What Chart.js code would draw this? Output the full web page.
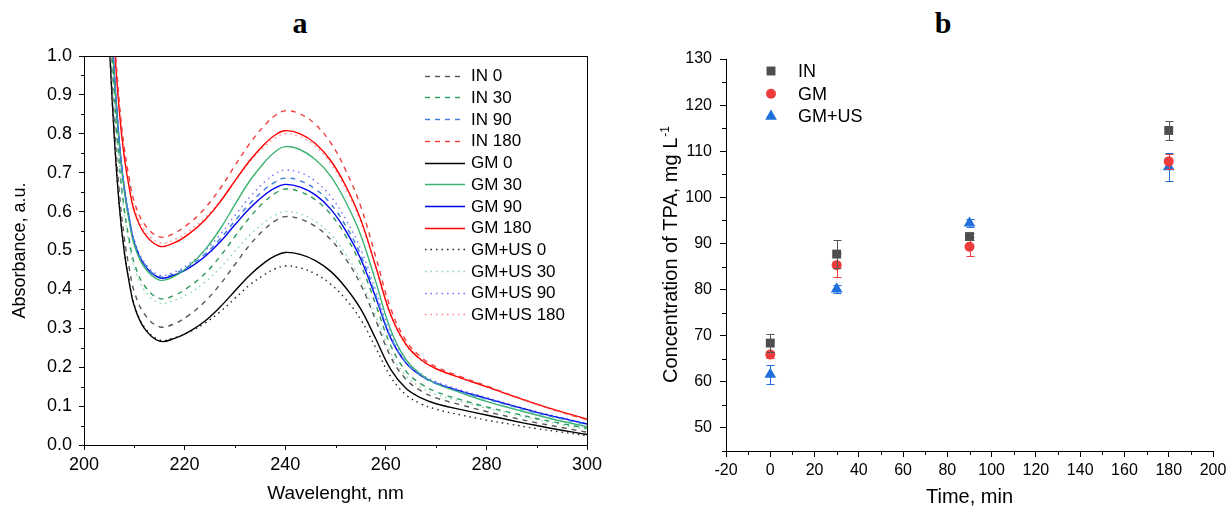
<!DOCTYPE html>
<html><head><meta charset="utf-8">
<script src="https://cdn.jsdelivr.net/npm/chart.js@4.4.0/dist/chart.umd.min.js"></script>
<style>
html,body{margin:0;padding:0;background:#fff}
body{width:1227px;height:511px;position:relative;overflow:hidden;font-family:'Liberation Sans',Arial,sans-serif}
#ca{position:absolute;left:0;top:0}
#cb{position:absolute;left:620px;top:0}
.ttl{position:absolute;top:8px;width:40px;text-align:center;font:bold 30px 'Liberation Serif','Times New Roman',serif;line-height:30px;color:#000}
</style></head>
<body>
<div class="ttl" style="left:280px">a</div>
<div class="ttl" style="left:923px">b</div>
<canvas id="ca" width="610" height="511"></canvas>
<canvas id="cb" width="607" height="511"></canvas>
<script>
// ---------- Panel a data ----------
const wavelength = [204,205,206,207,208,209,210,212,215,218,221,224,227,230,233,236,238,240,243,246,249,252,255,258,261,264,267,270,275,280,285,290,295,300];
const in0   = [1.434,1.084,.834,.654,.534,.454,.394,.337,.304, .312,.335,.368,.412,.464,.515,.556,.576,.587, .581,.562,.529,.479,.413,.321,.226,.169,.139,.121,.103,.086, .071,.057,.045,.033];
const in30  = [1.507,1.157,.907,.727,.607,.527,.467,.410,.377, .385,.408,.440,.484,.536,.586,.627,.647,.658, .651,.630,.594,.538,.464,.361,.255,.190,.157,.137,.116,.098, .083,.068,.055,.043];
const in90  = [1.563,1.213,.963,.783,.663,.583,.523,.466,.433, .441,.461,.490,.529,.576,.621,.658,.676,.686, .679,.658,.621,.564,.489,.385,.277,.212,.178,.158,.137,.118, .100,.082,.067,.052];
const in180 = [1.665,1.315,1.065,.885,.765,.685,.625,.568,.535, .545,.571,.608,.658,.718,.776,.823,.847,.859, .851,.824,.778,.707,.614,.484,.350,.269,.226,.201,.175,.152, .128,.105,.084,.065];
const gm0   = [1.397,1.047,.797,.617,.497,.417,.357,.300,.267, .274,.292,.318,.354,.396,.437,.470,.486,.495, .490,.474,.447,.405,.350,.273,.194,.146,.121,.106,.091,.077, .063,.050,.038,.027];
const gm30  = [1.554,1.204,.954,.774,.654,.574,.514,.457,.424, .434,.462,.501,.554,.618,.680,.729,.754,.767, .759,.734,.692,.626,.540,.420,.295,.220,.181,.158,.134,.112, .094,.077,.061,.047];
const gm90  = [1.560,1.210,.960,.780,.660,.580,.520,.463,.430, .437,.456,.484,.521,.566,.609,.644,.661,.670, .663,.643,.607,.552,.479,.379,.274,.211,.178,.159,.138,.120, .102,.084,.069,.054];
const gm180 = [1.641,1.291,1.041,.861,.741,.661,.601,.544,.511, .520,.544,.578,.624,.679,.732,.775,.797,.808, .800,.775,.732,.667,.580,.459,.334,.259,.219,.196,.172,.150, .127,.105,.085,.067];
const us0   = [1.40,1.05,.80,.62,.50,.42,.36,.303,.270, .276,.291,.313,.342,.377,.412,.439,.453,.460, .455,.440,.414,.375,.323,.250,.175,.129,.106,.092,.077,.064, .053,.042,.033,.024];
const us30  = [1.495,1.145,.895,.715,.595,.515,.455,.398,.365, .372,.391,.418,.454,.498,.540,.574,.591,.600, .594,.575,.542,.491,.425,.332,.236,.178,.148,.130,.112,.095, .080,.065,.052,.040];
const us90  = [1.567,1.217,.967,.787,.667,.587,.527,.470,.437, .445,.467,.498,.540,.590,.638,.677,.697,.707, .700,.678,.640,.581,.504,.397,.286,.219,.183,.163,.141,.122, .103,.086,.070,.055];
const us180 = [1.65,1.30,1.05,.87,.75,.67,.61,.553,.520, .528,.551,.583,.626,.678,.729,.769,.789,.800, .792,.768,.725,.660,.574,.456,.332,.257,.218,.196,.171,.150, .126,.105,.084,.066];
const seriesNamesA = ['IN 0','IN 30','IN 90','IN 180','GM 0','GM 30','GM 90','GM 180','GM+US 0','GM+US 30','GM+US 90','GM+US 180'];
const xTicksA = [200,220,240,260,280,300];
const yTicksA = [0,0.1,0.2,0.3,0.4,0.5,0.6,0.7,0.8,0.9,1.0];
const xMinorA = [210,230,250,270,290];
const yMinorA = [0.05,0.15,0.25,0.35,0.45,0.55,0.65,0.75,0.85,0.95];

// ---------- Panel b data ----------
const times = [0,30,90,180];
const inVals = [68.4,87.7,91.5,114.5];
const inErr  = [2.0,3.0,0.7,2.0];
const gmVals = [65.9,85.3,89.3,107.8];
const gmErr  = [0.8,2.6,2.0,1.6];
const usVals = [61.6,80.1,94.4,106.6];
const usErr  = [2.0,0.8,0.8,3.0];
const seriesNamesB = ['IN','GM','GM+US'];
const xTicksB = [-20,0,20,40,60,80,100,120,140,160,180,200];
const yTicksB = [50,60,70,80,90,100,110,120,130];
const xMinorB = [-10,10,30,50,70,90,110,130,150,170,190];
const yMinorB = [45,55,65,75,85,95,105,115,125];

Chart.defaults.font.family = "'Liberation Sans', Arial, sans-serif";
Chart.defaults.color = '#000';

const valuesA = [in0,in30,in90,in180,gm0,gm30,gm90,gm180,us0,us30,us90,us180];
const colorsA = ['#555555','#2e9a5c','#3b7ddd','#f23c3c','#000000','#3cb371','#0000f0','#ff0000','#222222','#86d3ad','#7272ff','#ff8686'];
const dashA = [[5,5],[5,5],[5,5],[5,5],[],[],[],[],[1.5,4],[1.5,4],[1.5,4],[1.5,4]];

const minorTicks = {
  id:'minorTicks',
  afterDraw(chart, args, o){
    const ctx = chart.ctx, ca = chart.chartArea;
    ctx.save(); ctx.strokeStyle='#000'; ctx.lineWidth=1;
    const xs = chart.scales.x, ys = chart.scales.y;
    (o.x||[]).forEach(v=>{const p=Math.round(xs.getPixelForValue(v))+0.5; ctx.beginPath(); ctx.moveTo(p,ca.bottom); ctx.lineTo(p,ca.bottom+o.len); ctx.stroke();});
    (o.y||[]).forEach(v=>{const p=Math.round(ys.getPixelForValue(v))+0.5; ctx.beginPath(); ctx.moveTo(ca.left,p); ctx.lineTo(ca.left-o.len,p); ctx.stroke();});
    ctx.restore();
  }
};
const frame = {
  id:'frame',
  afterDraw(chart, args, o){
    if(!o.on) return;
    const ctx=chart.ctx, ca=chart.chartArea;
    ctx.save(); ctx.strokeStyle='#000'; ctx.lineWidth=1;
    ctx.strokeRect(Math.round(ca.left)+0.5, Math.round(ca.top)+0.5, Math.round(ca.right-ca.left), Math.round(ca.bottom-ca.top));
    ctx.restore();
  }
};
const lineLegend = {
  id:'lineLegend',
  afterDraw(chart, args, o){
    if(!o.on) return;
    const ctx=chart.ctx;
    ctx.save();
    ctx.font = o.size+"px 'Liberation Sans', Arial, sans-serif";
    ctx.textBaseline='middle'; ctx.fillStyle='#000';
    chart.data.datasets.forEach((d,i)=>{
      const y = o.y0 + i*o.step;
      ctx.strokeStyle=d.borderColor; ctx.lineWidth=d.borderWidth; ctx.setLineDash(d.borderDash||[]);
      ctx.beginPath(); ctx.moveTo(o.x0,Math.round(y)+0.5); ctx.lineTo(o.x1,Math.round(y)+0.5); ctx.stroke();
      ctx.setLineDash([]);
      ctx.fillText(d.label, o.tx, y+1);
    });
    ctx.restore();
  }
};
function marker(ctx, style, r, x, y, color){
  ctx.fillStyle=color; ctx.beginPath();
  if(style==='rect'){const s=r*Math.SQRT1_2; ctx.rect(x-s,y-s,2*s,2*s);}
  else if(style==='circle'){ctx.arc(x,y,r,0,Math.PI*2);}
  else { ctx.moveTo(x, y-r); ctx.lineTo(x+Math.sin(2*Math.PI/3)*r, y-Math.cos(2*Math.PI/3)*r); ctx.lineTo(x+Math.sin(4*Math.PI/3)*r, y-Math.cos(4*Math.PI/3)*r); ctx.closePath(); }
  ctx.fill();
}
const pointLegend = {
  id:'pointLegend',
  afterDraw(chart, args, o){
    if(!o.on) return;
    const ctx=chart.ctx;
    ctx.save();
    ctx.font = o.size+"px 'Liberation Sans', Arial, sans-serif";
    ctx.textBaseline='middle';
    chart.data.datasets.forEach((d,i)=>{
      const y = o.y0 + i*o.step;
      marker(ctx, d.pointStyle, d.pointRadius, o.mx, y, d.backgroundColor);
      ctx.fillStyle='#000'; ctx.fillText(d.label, o.tx, y+1);
    });
    ctx.restore();
  }
};
const errorBars = {
  id:'errorBars',
  afterDatasetDraw(chart, args){
    const d = chart.data.datasets[args.index];
    if(!d.errors) return;
    const ctx=chart.ctx, ys=chart.scales.y, meta=chart.getDatasetMeta(args.index);
    ctx.save(); ctx.strokeStyle=d.errorColor; ctx.lineWidth=1;
    meta.data.forEach((el,j)=>{
      const v=d.data[j].y, e=d.errors[j];
      const x=Math.round(el.x)+0.5, t=Math.round(ys.getPixelForValue(v+e))+0.5, b=Math.round(ys.getPixelForValue(v-e))+0.5;
      ctx.beginPath(); ctx.moveTo(x,t); ctx.lineTo(x,b);
      ctx.moveTo(x-4,t); ctx.lineTo(x+4,t); ctx.moveTo(x-4,b); ctx.lineTo(x+4,b); ctx.stroke();
    });
    ctx.restore();
  }
};
const yTitleSup = {
  id:'yTitleSup',
  afterDraw(chart, args, o){
    if(!o.on) return;
    const ctx=chart.ctx;
    ctx.save();
    ctx.translate(o.x, o.y); ctx.rotate(-Math.PI/2);
    const f1 = o.size+"px 'Liberation Sans', Arial, sans-serif";
    const f2 = Math.round(o.size*0.62)+"px 'Liberation Sans', Arial, sans-serif";
    ctx.font=f1; const w1=ctx.measureText(o.text).width;
    ctx.font=f2; const w2=ctx.measureText(o.sup).width;
    const start = -(w1+w2)/2;
    ctx.fillStyle='#000'; ctx.textBaseline='alphabetic';
    ctx.font=f1; ctx.fillText(o.text, start, o.size*0.36);
    ctx.font=f2; ctx.fillText(o.sup, start+w1+1, o.size*0.36 - o.size*0.42);
    ctx.restore();
  }
};

function axisCommon(fontSize, pad){
  return {
    grid:{drawOnChartArea:false, color:'#000', tickColor:'#000', tickWidth:1},
    border:{display:true, color:'#000', width:1},
    ticks:{font:{size:fontSize}, color:'#000', padding:pad, maxRotation:0, autoSkip:false}
  };
}

// ---------- Chart a ----------
new Chart(document.getElementById('ca'), {
  type:'line',
  data:{ datasets: valuesA.map((vals,i)=>({
    label: seriesNamesA[i],
    data: wavelength.map((w,j)=>({x:w, y:vals[j]})),
    borderColor: colorsA[i], borderWidth: 1.4, borderDash: dashA[i],
    pointRadius:0, fill:false, tension:0.4
  }))},
  options:{
    responsive:false, animation:false,
    layout:{padding:{top:56,right:23,left:0,bottom:0}},
    plugins:{legend:{display:false}, tooltip:{enabled:false},
      minorTicks:{x:xMinorA, y:yMinorA, len:3},
      frame:{on:true},
      lineLegend:{on:true, x0:425, x1:465, tx:471, y0:75.7, step:21.7, size:17}
    },
    scales:{
      x: Object.assign(axisCommon(18,4), {
        type:'linear', min:200, max:300,
        afterBuildTicks(s){ s.ticks = xTicksA.map(v=>({value:v})); },
        title:{display:true, text:'Wavelenght, nm', font:{size:19}, color:'#000', padding:{top:0,bottom:6}},
        afterFit(s){ s.height=66; s.paddingLeft=0; s.paddingRight=0; }
      }),
      y: Object.assign(axisCommon(18,7), {
        type:'linear', min:0, max:1,
        afterBuildTicks(s){ s.ticks = yTicksA.map(v=>({value:v})); },
        title:{display:true, text:'Absorbance, a.u.', font:{size:18}, color:'#000', padding:{top:9,bottom:0}},
        afterFit(s){ s.width=84; s.paddingTop=0; s.paddingBottom=0; }
      })
    }
  },
  plugins:[minorTicks, frame, lineLegend]
});
const ca = Chart.getChart('ca');
ca.options.scales.y.ticks.callback = v => Number(v).toFixed(1);
ca.options.scales.x.grid.tickLength = 5; ca.options.scales.y.grid.tickLength = 5;
ca.update();

// ---------- Chart b ----------
const valsB = [inVals, gmVals, usVals];
const errsB = [inErr, gmErr, usErr];
const colorsB = ['#4d4d4d','#ee3b3b','#1f6fdc'];
const errColorsB = ['#555555','#ee3b3b','#1f6fdc'];
const stylesB = ['rect','circle','triangle'];
const radiiB = [6.3,5,6.8];
new Chart(document.getElementById('cb'), {
  type:'scatter',
  data:{ datasets: valsB.map((vals,i)=>({
    label: seriesNamesB[i],
    data: times.map((t,j)=>({x:t, y:vals[j]})),
    errors: errsB[i], errorColor: errColorsB[i],
    backgroundColor: colorsB[i], borderColor: colorsB[i], borderWidth:0,
    pointStyle: stylesB[i], pointRadius: radiiB[i], pointHoverRadius: radiiB[i]
  }))},
  options:{
    responsive:false, animation:false,
    layout:{padding:{top:59,right:14,left:0,bottom:0}},
    plugins:{legend:{display:false}, tooltip:{enabled:false},
      minorTicks:{x:xMinorB, y:yMinorB, len:4},
      pointLegend:{on:true, mx:151, tx:178, y0:71, step:22.7, size:18},
      yTitleSup:{on:true, x:50, y:255, size:20, text:'Concentration of TPA, mg L', sup:'-1'}
    },
    scales:{
      x: Object.assign(axisCommon(16,4), {
        type:'linear', min:-20, max:200,
        afterBuildTicks(s){ s.ticks = xTicksB.map(v=>({value:v})); },
        title:{display:true, text:'Time, min', font:{size:20}, color:'#000', padding:{top:0,bottom:2}},
        afterFit(s){ s.height=60; s.paddingLeft=0; s.paddingRight=0; }
      }),
      y: Object.assign(axisCommon(16,8), {
        type:'linear', min:45, max:130,
        afterBuildTicks(s){ s.ticks = yTicksB.map(v=>({value:v})); },
        title:{display:false},
        afterFit(s){ s.width=106; s.paddingTop=0; s.paddingBottom=0; }
      })
    }
  },
  plugins:[minorTicks, errorBars, pointLegend, yTitleSup]
});
const cb = Chart.getChart('cb');
cb.options.scales.x.grid.tickLength = 6; cb.options.scales.y.grid.tickLength = 6;
cb.update();
</script>
</body></html>
